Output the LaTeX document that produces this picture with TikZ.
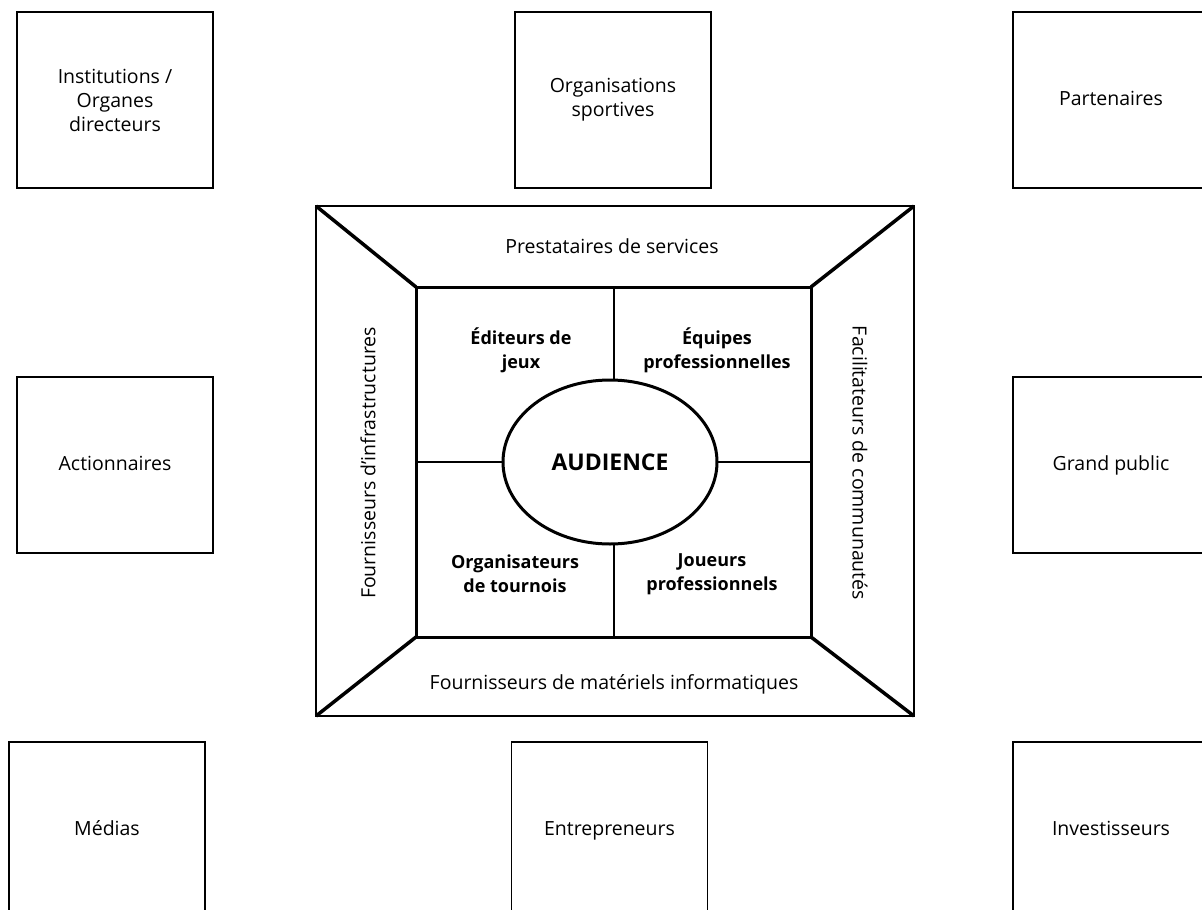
\documentclass[tikz,border=0pt]{standalone}
\usepackage{fontspec}
\setmainfont{Open Sans}
\usetikzlibrary{shapes.geometric}
\begin{document}
\begin{tikzpicture}[x=1pt,y=-1pt,
  outerbox/.style={draw, line width=1.4pt, minimum width=196pt, minimum height=176pt,
    align=center, font=\fontsize{19.5}{24}\selectfont, inner sep=0pt, outer sep=0pt},
  oneline/.style={text height=14pt, text depth=4pt},
  label/.style={align=center, font=\fontsize{19.5}{24}\selectfont, inner sep=0pt},
  quad/.style={align=center, font=\fontsize{18}{24}\selectfont\bfseries, inner sep=0pt},
  frameline/.style={line width=2pt},
  diag/.style={line width=3.5pt},
  divider/.style={line width=2pt}]
\clip (0,0) rectangle (1202,910);
\fill[white] (0,0) rectangle (1202,910);

% outer boxes
\node[outerbox] (tl) at (115,100) {Institutions /\\Organes\\directeurs};
\node[outerbox] (tm) at (613,100) {Organisations\\sportives};
\node[outerbox, oneline] (tr) at (1111,100) {Partenaires};
\node[outerbox, oneline] (ml) at (115,465) {Actionnaires};
\node[outerbox, oneline] (mr) at (1111,465) {Grand public};
\node[outerbox, oneline] (bl) at (107,830) {Médias};
\node[outerbox, oneline] (bm) at (609.5,830) {Entrepreneurs};
\node[outerbox, oneline] (br) at (1111,830) {Investisseurs};

% central frame
\node[draw, frameline, minimum width=598pt, minimum height=510pt, inner sep=0pt, outer sep=0pt] (frame) at (615,461) {};
\node[draw, line width=3pt, minimum width=395pt, minimum height=350pt, inner sep=0pt, outer sep=0pt] (inner) at (613.5,462) {};
\draw[diag] (frame.north west) -- (inner.north west);
\draw[diag] (frame.north east) -- (inner.north east);
\draw[diag] (frame.south west) -- (inner.south west);
\draw[diag] (frame.south east) -- (inner.south east);

% audience ellipse
\node[draw, ellipse, line width=3pt, minimum width=214pt, minimum height=164pt, inner sep=0pt, outer sep=0pt,
  font=\fontsize{23}{27}\selectfont\bfseries] (aud) at (610,462) {AUDIENCE};

% dividers
\draw[divider] (inner.north) -- (aud.north -| inner.north);
\draw[divider] (aud.south -| inner.south) -- (inner.south);
\draw[divider] (inner.west) -- (aud.west);
\draw[divider] (aud.east) -- (inner.east);

% frame labels
\node[label] (top) at (612,246) {Prestataires de services};
\node[label] (bottom) at (614,684) {Fournisseurs de matériels informatiques};
\node[label, rotate=90] (left) at (368,463) {Fournisseurs d’infrastructures};
\node[label, rotate=-90] (right) at (860,463) {Facilitateurs de communautés};

% quadrant labels
\node[quad] (q1) at (521,350) {Éditeurs de\\jeux};
\node[quad] (q2) at (717,350) {Équipes\\professionnelles};
\node[quad] (q3) at (515,574) {Organisateurs\\de tournois};
\node[quad] (q4) at (712,574) {Joueurs\\professionnels};
\end{tikzpicture}
\end{document}
